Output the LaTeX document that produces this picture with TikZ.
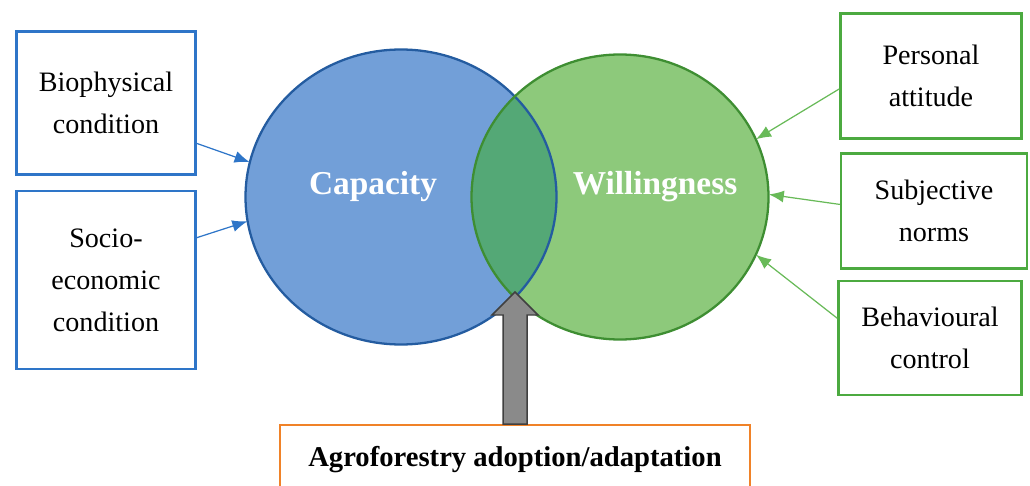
\documentclass[tikz,border=0pt]{standalone}
\usepackage{fontspec}
\setmainfont{Liberation Serif}
\usetikzlibrary{arrows.meta,positioning,shapes.geometric,calc}

\definecolor{boxblue}{RGB}{46,117,200}
\definecolor{capfill}{RGB}{114,159,216}
\definecolor{capline}{RGB}{36,92,160}
\definecolor{willfill}{RGB}{141,201,123}
\definecolor{willline}{RGB}{62,142,50}
\definecolor{boxgreen}{RGB}{76,170,64}
\definecolor{arrgreen}{RGB}{104,186,88}
\definecolor{overlapfill}{RGB}{84,168,118}
\definecolor{boxorange}{RGB}{240,130,40}
\definecolor{arrgray}{RGB}{138,138,138}

\begin{document}
\begin{tikzpicture}[x=0.02cm,y=-0.02cm,
  txtbox/.style={line width=1.4pt,align=center,inner sep=0pt,font=\fontsize{16}{24}\selectfont},
  bluebox/.style={txtbox,draw=boxblue},
  greenbox/.style={txtbox,draw=boxgreen},
  bubble/.style={ellipse,inner sep=0pt},
  bigword/.style={text=white,font=\bfseries\fontsize{19}{23}\selectfont},
  bluearr/.style={draw=boxblue,line width=0.7pt,-{Latex[length=0.3cm,width=0.24cm]}},
  greenarr/.style={draw=arrgreen,line width=0.7pt,-{Latex[length=0.3cm,width=0.24cm]}}]

\useasboundingbox (0,0) rectangle (1030,486);
\clip (0,0) rectangle (1030,486);

\node[bubble,fill=capfill,minimum width=6.22cm,minimum height=5.9cm] (cap) at (401,197) {};
\node[bubble,fill=willfill,minimum width=5.94cm,minimum height=5.7cm] (will) at (620,197) {};

\begin{scope}
\clip (cap.center) ellipse [x radius=155.5, y radius=147.5];
\fill[overlapfill] (will.center) ellipse [x radius=148.5, y radius=142.5];
\end{scope}
\draw[capline,line width=1.3pt] (cap.center) ellipse [x radius=155.5, y radius=147.5];
\draw[willline,line width=1.3pt] (will.center) ellipse [x radius=148.5, y radius=142.5];

\node[bigword] (captxt) at (373,187) {Capacity};
\node[bigword] (willtxt) at (655,187) {Willingness};

\node[bluebox,minimum width=3.58cm,minimum height=2.86cm] (bio) at (106,103) {Biophysical\\condition};
\node[bluebox,minimum width=3.58cm,minimum height=3.56cm] (socio) at (106,280) {Socio-\\economic\\condition};

\node[greenbox,minimum width=3.62cm,minimum height=2.5cm] (att) at (931,76) {Personal\\attitude};
\node[greenbox,minimum width=3.72cm,minimum height=2.3cm] (norms) at (934,211) {Subjective\\norms};
\node[greenbox,minimum width=3.66cm,minimum height=2.28cm] (ctrl) at (930,338) {Behavioural\\control};

\draw[bluearr] (bio.-24) -- (cap.167);
\draw[bluearr] (socio.25) -- (cap.-171);
\draw[greenarr] (att.188) -- (will.23);
\draw[greenarr] (norms.176) -- (will.1);
\draw[greenarr] (ctrl.168) -- (will.-23);

\node[draw=boxorange,line width=1.4pt,inner sep=0pt,anchor=north,minimum width=9.4cm,
  text height=0.82cm,text depth=0.8cm,font=\bfseries\fontsize{16.3}{20}\selectfont] (agro) at (515,424) {Agroforestry adoption/adaptation};

\coordinate (tip) at (515,292);
\filldraw[fill=arrgray,draw=black!75,line width=0.85pt,line join=miter]
  ($(agro.north)+(-12,0)$) -- ($(tip)+(-12,23)$) -- ($(tip)+(-23,23)$) -- (tip)
  -- ($(tip)+(23,23)$) -- ($(tip)+(12,23)$) -- ($(agro.north)+(12,0)$) -- cycle;
\end{tikzpicture}
\end{document}
